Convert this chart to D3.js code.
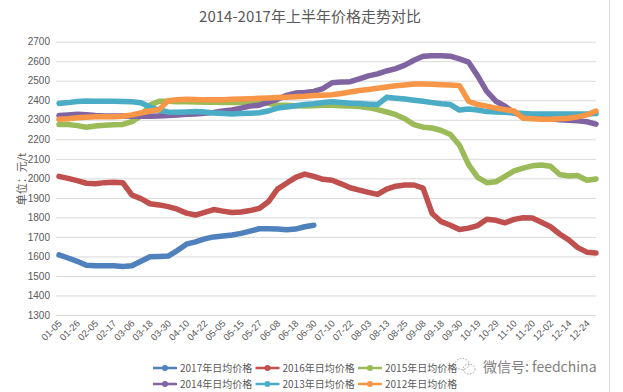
<!DOCTYPE html>
<html><head><meta charset="utf-8">
<script src="https://cdn.jsdelivr.net/npm/d3@7"></script>
<style>
html,body{margin:0;padding:0;background:#fff;}
text{font-family:"Noto Sans CJK SC","Liberation Sans",sans-serif;}
</style></head>
<body><svg id="c" width="623" height="392"></svg>
<script>
const categories = ["01-05","01-14","01-26","02-01","02-05","02-11","02-17","02-27","03-06","03-12",
"03-18","03-24","03-30","04-05","04-10","04-16","04-22","04-28","05-05","05-09",
"05-15","05-21","05-27","06-02","06-08","06-13","06-18","06-24","06-30","07-06",
"07-10","07-16","07-22","07-28","08-03","08-07","08-13","08-19","08-25","09-01",
"09-08","09-13","09-18","09-24","09-30","10-11","10-19","10-24","10-29","11-04",
"11-10","11-15","11-20","11-26","12-02","12-08","12-14","12-19","12-24","12-29"];
const tickLabels = ["01-05","01-26","02-05","02-17","03-06","03-18","03-30","04-10","04-22","05-05",
"05-15","05-27","06-08","06-18","06-30","07-10","07-22","08-03","08-13","08-25",
"09-08","09-18","09-30","10-19","10-29","11-10","11-20","12-02","12-14","12-24"];
const yTicks = [1300,1400,1500,1600,1700,1800,1900,2000,2100,2200,2300,2400,2500,2600,2700];
const seriesNames = ["2017年日均价格","2016年日均价格","2015年日均价格","2014年日均价格","2013年日均价格","2012年日均价格"];
const colors = ["#4F81BD","#C0504D","#9BBB59","#8064A2","#4BACC6","#F79646"];

const v2017 = [1608,1592,1575,1555,1552,1552,1552,1548,1552,1575,1598,1600,1602,1630,1663,1675,1690,1700,1705,1710,
1718,1730,1742,1742,1740,1737,1740,1752,1760];
const v2016 = [2010,2000,1988,1975,1972,1978,1980,1978,1915,1896,1870,1864,1855,1842,1822,1812,1826,1840,1832,1825,
1828,1835,1846,1880,1945,1975,2005,2022,2010,1995,1990,1972,1952,1940,1928,1918,1945,1960,1966,1966,
1950,1820,1778,1760,1738,1745,1758,1790,1785,1772,1790,1798,1797,1775,1752,1715,1685,1645,1622,1618];
const v2015 = [2276,2276,2270,2262,2268,2272,2274,2276,2290,2320,2375,2395,2395,2393,2392,2391,2390,2390,2389,2389,
2388,2388,2388,2385,2375,2375,2372,2370,2372,2375,2375,2372,2370,2368,2362,2352,2340,2326,2305,2275,
2262,2258,2245,2225,2170,2070,2005,1978,1982,2010,2038,2052,2064,2068,2062,2020,2012,2014,1990,1997];
const v2014 = [2322,2325,2328,2326,2322,2320,2320,2320,2318,2318,2318,2320,2322,2325,2328,2330,2333,2338,2345,2350,
2360,2370,2375,2390,2405,2425,2437,2440,2445,2460,2490,2493,2495,2510,2525,2535,2550,2562,2580,2605,
2625,2628,2628,2626,2612,2595,2525,2445,2395,2370,2335,2320,2312,2308,2305,2300,2298,2295,2290,2278];
const v2013 = [2384,2388,2394,2396,2395,2395,2395,2394,2392,2387,2365,2350,2340,2338,2340,2342,2340,2335,2332,2330,
2332,2334,2336,2345,2360,2366,2372,2378,2382,2388,2392,2388,2385,2383,2380,2378,2415,2410,2406,2400,
2395,2388,2382,2378,2350,2355,2350,2342,2340,2338,2335,2332,2330,2330,2330,2330,2330,2330,2330,2332];
const v2012 = [2303,2305,2310,2313,2315,2315,2316,2318,2325,2335,2345,2352,2398,2403,2405,2404,2402,2402,2403,2405,
2406,2408,2410,2412,2414,2416,2418,2420,2424,2426,2428,2435,2442,2450,2455,2462,2468,2474,2478,2483,
2483,2482,2480,2478,2475,2395,2378,2370,2360,2352,2345,2308,2305,2303,2303,2305,2308,2315,2325,2345];
const allSeries = [v2017,v2016,v2015,v2014,v2013,v2012];

const svg = d3.select("#c");
const x = d3.scalePoint().domain(categories).range([59, 596]);
const y = d3.scaleLinear().domain([1300, 2700]).range([315, 41.7]);
const txt = "#595959";

// right border
svg.append("line").attr("x1",609.5).attr("x2",609.5).attr("y1",0).attr("y2",392).attr("stroke","#d9d9d9");

// title
svg.append("text").attr("x",310).attr("y",22).attr("text-anchor","middle")
  .attr("font-size",15).attr("fill",txt).text("2014-2017年上半年价格走势对比");

// gridlines + y axis
const yAxis = d3.axisLeft(y).tickValues(yTicks).tickFormat(d3.format("d")).tickSize(-(596-56)).tickPadding(6);
const gy = svg.append("g").attr("transform","translate(56,0)").call(yAxis);
gy.select(".domain").remove();
gy.selectAll(".tick line").attr("stroke","#d9d9d9");
gy.selectAll(".tick text").attr("fill",txt).attr("font-size",10)
  .style("font-family","'Liberation Sans',sans-serif");

// x axis labels
const xAxis = d3.axisBottom(x).tickValues(tickLabels).tickSize(0).tickPadding(0);
const gx = svg.append("g").attr("transform","translate(0,315)").call(xAxis);
gx.select(".domain").remove();
gx.selectAll(".tick text").attr("fill",txt).attr("font-size",9.5)
  .style("font-family","'Liberation Sans',sans-serif")
  .attr("text-anchor","end").attr("dy",0).attr("y",0)
  .attr("transform","translate(3,9) rotate(-45)");

// y axis title
svg.append("text").attr("transform","translate(26,179) rotate(-90)").attr("text-anchor","middle")
  .attr("font-size",11).attr("fill",txt).text("单位：元/t");

// lines
const line = d3.line().defined(d=>d!=null).x((d,i)=>x(categories[i])).y(d=>y(d)).curve(d3.curveLinear);
allSeries.forEach((s,k)=>{
  svg.append("path").datum(s).attr("d",line).attr("fill","none")
    .attr("stroke",colors[k]).attr("stroke-width",5.5)
    .attr("stroke-linejoin","round").attr("stroke-linecap","round");
});

// legend
const legX = [153,255.5,358];
const legY = [368,384];
seriesNames.forEach((n,k)=>{
  const lx = legX[k%3], ly = legY[Math.floor(k/3)];
  const g = svg.append("g");
  g.append("line").attr("x1",lx).attr("x2",lx+24).attr("y1",ly).attr("y2",ly)
    .attr("stroke",colors[k]).attr("stroke-width",2.5);
  g.append("circle").attr("cx",lx+12).attr("cy",ly).attr("r",3).attr("fill",colors[k]);
  g.append("text").attr("x",lx+27).attr("y",ly+3.5).attr("font-size",10).attr("fill",txt).text(n);
});

// watermark
const wm = svg.append("g").attr("fill","none").attr("stroke","#9a9a9a").attr("stroke-width",1).attr("stroke-dasharray","1.5,1.5");
wm.append("ellipse").attr("cx",462).attr("cy",364).attr("rx",7).attr("ry",5.5);
wm.append("ellipse").attr("cx",469).attr("cy",369).attr("rx",6).attr("ry",5);
svg.append("text").attr("x",483).attr("y",372).attr("font-size",14).attr("fill","#7f7f7f").text("微信号: feedchina");
</script>
</body></html>
